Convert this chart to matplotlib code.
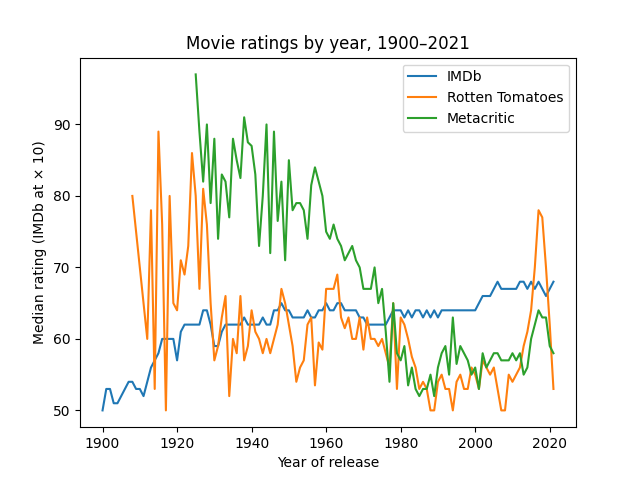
# Median movie ratings per release year
import numpy as np
import matplotlib.pyplot as plt


IMDB = [50, 53, 53, 51, 51, 52, 53, 54, 54, 53, 53, 52, 54, 56, 57, 58, 60, 60, 60, 60,
        57, 61, 62, 62, 62, 62, 62, 64, 64, 62, 59, 59, 61, 62, 62, 62, 62, 62, 63, 62,
        62, 62, 62, 63, 62, 62, 64, 64, 65, 64, 64, 63, 63, 63, 63, 64, 63, 63, 64, 64,
        65, 64, 64, 65, 65, 64, 64, 64, 64, 63, 63, 62, 62, 62, 62, 62, 62, 63, 64, 64,
        64, 63, 64, 63, 64, 64, 63, 64, 63, 64, 63, 64, 64, 64, 64, 64, 64, 64, 64, 64,
        64, 65, 66, 66, 66, 67, 68, 67, 67, 67, 67, 67, 68, 68, 67, 68, 67, 68, 67, 66,
        67, 68]
RT = [80, 75, 70, 65, 60, 78, 53, 89, 76, 50, 80, 65, 64, 71, 69, 73, 86, 80, 67, 81,
      76, 65, 57, 59, 63, 66, 52, 60, 58, 66, 57, 59, 64, 61, 60, 58, 60, 58, 60, 62,
      67, 65, 62, 59, 54, 56, 57, 62, 63, 53.5, 59.5, 58.5, 67, 67, 67, 69, 63, 61.5, 63, 60,
      60, 63, 58.5, 63, 60, 60, 59, 60, 58, 56, 65, 53, 63, 62, 60, 57.5, 56, 53, 54, 53,
      50, 50, 54, 55, 53, 53, 50, 54, 55, 53, 53, 56, 55, 53, 57, 56, 55, 56, 53, 50,
      50, 55, 54, 55, 56, 59, 61, 64, 70, 78, 77, 70, 62, 53]
METACRITIC = [97, 89, 82, 90, 79, 88, 74, 83, 82, 77, 88, 85, 82.5, 91, 87.5, 87, 83, 73, 80, 90,
              72, 89, 76.5, 82, 71, 85, 78, 79, 79, 78, 74, 81.5, 84, 82, 80, 75, 74, 76, 74, 73,
              71, 72, 73, 71, 70, 67, 67, 67, 70, 65, 67, 61, 54, 65, 58, 57, 59, 53.5, 56, 53,
              52, 53, 53, 55, 52, 56, 58, 59, 55, 63, 56.5, 59, 58, 57, 55, 56, 53, 58, 56, 57,
              58, 58, 57, 57, 57, 58, 57, 58, 55, 56, 60, 62, 64, 63, 63, 59, 58]

years_imdb = np.arange(1900, 1900 + len(IMDB))
years_rt = np.arange(2022 - len(RT), 2022)
years_mc = np.arange(2022 - len(METACRITIC), 2022)

plt.figure(figsize=(6.4, 4.8))
plt.plot(years_imdb, IMDB, label="IMDb")
plt.plot(years_rt, RT, label="Rotten Tomatoes")
plt.plot(years_mc, METACRITIC, label="Metacritic")
plt.title("Movie ratings by year, 1900\u20132021")
plt.xlabel("Year of release")
plt.ylabel("Median rating (IMDb at \u00d7 10)")
plt.legend(loc="upper right")
plt.savefig("out.png", dpi=100)
